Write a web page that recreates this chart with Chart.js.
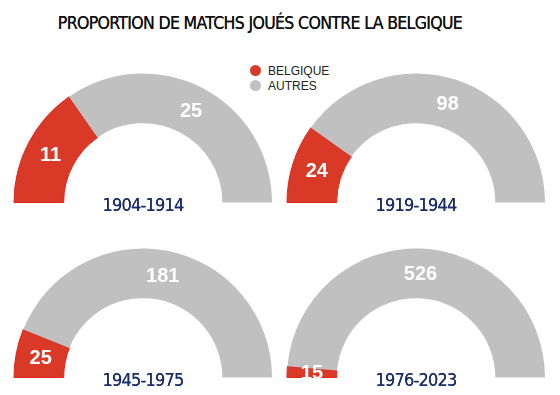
<!DOCTYPE html>
<html>
<head>
<meta charset="utf-8">
<script src="https://cdn.jsdelivr.net/npm/chart.js@4/dist/chart.umd.min.js"></script>
<style>
  body { margin: 0; width: 560px; height: 395px; background: #fff; position: relative; overflow: hidden; font-family: 'Liberation Sans', Arial, sans-serif; }
  .title { position: absolute; left: 0; width: 520px; top: 13px; text-align: center; font-family: 'DejaVu Sans Condensed', 'DejaVu Sans', sans-serif; font-size: 17.5px; letter-spacing: -0.65px; color: #111; text-shadow: 0 0 0.4px #111; }
  .chart { position: absolute; width: 260px; height: 130px; }
  .period { position: absolute; width: 160px; text-align: center; font-family: 'DejaVu Sans Condensed', 'DejaVu Sans', sans-serif; font-size: 18px; letter-spacing: -0.8px; color: #1b2e6b; line-height: 20px; text-shadow: 0 0 0.4px #1b2e6b; }
  .legend { position: absolute; left: 250px; top: 64px; font-size: 12px; color: #222; line-height: 15px; }
  .legend span { display: inline-block; width: 11px; height: 11px; border-radius: 50%; margin-right: 7px; vertical-align: -1px; }
</style>
</head>
<body>
<div class="title">PROPORTION DE MATCHS JOUÉS CONTRE LA BELGIQUE</div>
<div class="legend" id="legend"></div>
<div id="charts"></div>
<script>
// data
const periods = ['1904-1914', '1919-1944', '1945-1975', '1976-2023'];
const belgique = [11, 24, 25, 15];
const autres = [25, 98, 181, 526];
const seriesNames = ['BELGIQUE', 'AUTRES'];
const seriesColors = ['#d93a27', '#c0c0c0'];

// where each half doughnut sits (left, top of its 260x130 box)
const spots = [[13, 73], [286, 73], [13, 248], [286, 248]];

// legend
document.getElementById('legend').innerHTML = seriesNames
  .map((n, i) => '<div><span style="background:' + seriesColors[i] + '"></span>' + n + '</div>')
  .join('');

// white numbers at the middle of each arc
const valueLabels = {
  id: 'valueLabels',
  afterDatasetsDraw(chart) {
    const ctx = chart.ctx;
    const meta = chart.getDatasetMeta(0);
    ctx.save();
    ctx.font = 'bold 20px "Liberation Sans", Arial, sans-serif';
    ctx.fillStyle = '#fff';
    ctx.textAlign = 'center';
    ctx.textBaseline = 'middle';
    meta.data.forEach((arc, i) => {
      const p = arc.tooltipPosition();
      ctx.fillText(chart.data.datasets[0].data[i], p.x, p.y + 1);
    });
    ctx.restore();
  }
};

const holder = document.getElementById('charts');

periods.forEach((period, i) => {
  const box = document.createElement('div');
  box.className = 'chart';
  box.style.left = spots[i][0] + 'px';
  box.style.top = spots[i][1] + 'px';
  const canvas = document.createElement('canvas');
  box.appendChild(canvas);
  holder.appendChild(box);

  const lbl = document.createElement('div');
  lbl.className = 'period';
  lbl.textContent = period;
  lbl.style.left = (spots[i][0] + 130 - 80) + 'px';
  lbl.style.top = (spots[i][1] + 130 - 8) + 'px';
  document.body.appendChild(lbl);

  new Chart(canvas, {
    type: 'doughnut',
    data: {
      labels: seriesNames,
      datasets: [{
        data: [belgique[i], autres[i]],
        backgroundColor: seriesColors,
        borderColor: ['#e8231b', '#c0c0c0'],
        borderWidth: [1, 0]
      }]
    },
    options: {
      responsive: true,
      maintainAspectRatio: false,
      animation: false,
      rotation: -90,
      circumference: 180,
      cutout: '61.5%',
      plugins: {
        legend: { display: false },
        tooltip: { enabled: false }
      }
    },
    plugins: [valueLabels]
  });
});
</script>
</body>
</html>
